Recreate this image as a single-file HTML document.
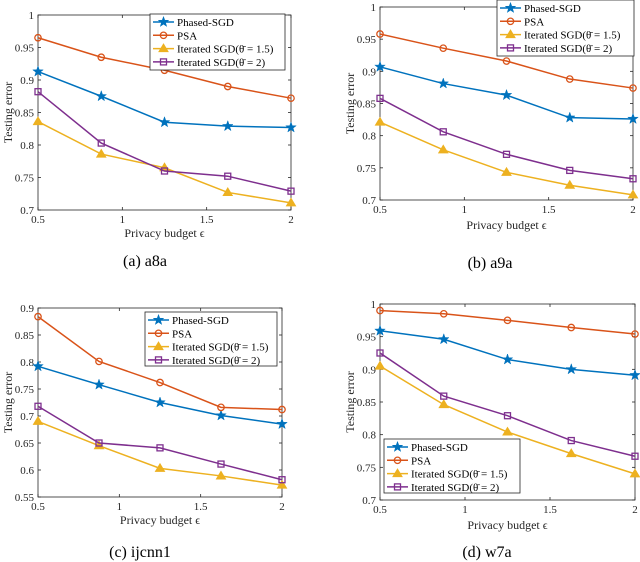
<!DOCTYPE html>
<html><head><meta charset="utf-8"><style>
body{margin:0;background:#fff;}
svg{display:block;font-family:"Liberation Serif",serif;}
</style></head><body>
<svg id="s" width="640" height="562" viewBox="0 0 640 562" xmlns="http://www.w3.org/2000/svg"></svg>
<script>
const xValues=[0.5,0.875,1.25,1.625,2];
const xTicks=[0.5,1,1.5,2];
const seriesNames=["Phased-SGD","PSA","Iterated SGD(θ̄ = 1.5)","Iterated SGD(θ̄ = 2)"];
const aPhased=[0.913,0.875,0.835,0.829,0.827];
const aPSA=[0.965,0.935,0.915,0.890,0.872];
const aIS15=[0.836,0.786,0.765,0.727,0.711];
const aIS2=[0.882,0.803,0.760,0.752,0.729];
const bPhased=[0.907,0.881,0.863,0.828,0.826];
const bPSA=[0.958,0.936,0.916,0.888,0.874];
const bIS15=[0.821,0.778,0.743,0.723,0.708];
const bIS2=[0.858,0.806,0.771,0.746,0.733];
const cPhased=[0.792,0.758,0.725,0.701,0.685];
const cPSA=[0.884,0.801,0.762,0.716,0.712];
const cIS15=[0.690,0.645,0.603,0.589,0.572];
const cIS2=[0.718,0.650,0.641,0.611,0.582];
const dPhased=[0.959,0.946,0.915,0.900,0.891];
const dPSA=[0.990,0.985,0.975,0.964,0.954];
const dIS15=[0.905,0.846,0.804,0.771,0.740];
const dIS2=[0.925,0.859,0.829,0.791,0.767];
const yTicksA=[0.7,0.75,0.8,0.85,0.9,0.95,1];
const yTicksC=[0.55,0.6,0.65,0.7,0.75,0.8,0.85,0.9];
const colors=["#0072BD","#D95319","#EDB120","#7E2F8E"];
const markers=["star","circle","tri","square"];
const NS="http://www.w3.org/2000/svg";
const svg=document.getElementById('s');
function mk(tag,attrs,parent){const e=document.createElementNS(NS,tag);for(const k in attrs)e.setAttribute(k,attrs[k]);(parent||svg).appendChild(e);return e;}
function fmt(v){return String(+v.toFixed(2));}
function marker(g,type,x,y,c){
  let e;
  if(type==="circle")e=mk('circle',{cx:x,cy:y,r:3.2,fill:'none',stroke:c,'stroke-width':1.3},g);
  else if(type==="square")e=mk('rect',{x:x-3,y:y-3,width:6,height:6,fill:'none',stroke:c,'stroke-width':1.3},g);
  else if(type==="tri")e=mk('polygon',{points:`${x},${y-4.5} ${x-4.5},${y+3} ${x+4.5},${y+3}`,fill:c,stroke:c},g);
  else{let p=[];for(let i=0;i<10;i++){const r=i%2?2.2:5.5,a=-Math.PI/2+i*Math.PI/5;p.push((x+r*Math.cos(a)).toFixed(1)+','+(y+r*Math.sin(a)).toFixed(1));}e=mk('polygon',{points:p.join(' '),fill:c,stroke:c,'stroke-width':0.5},g);}
  return e;
}
function panel(P){
  const g=mk('g',{});
  
  
  const {L,R,T,B,ymin,ymax,yt}=P;
  const sx=v=>L+(v-0.5)/(1.5)*(R-L);
  const sy=v=>B-(v-ymin)/(ymax-ymin)*(B-T);
  const frame=mk('rect',{x:L,y:T,width:R-L,height:B-T,fill:'#fff',stroke:'#262626','stroke-width':0.8},g);
  
  
  xTicks.forEach(v=>{const x=sx(v);mk('line',{x1:x,x2:x,y1:B,y2:B-3,stroke:'#262626','stroke-width':0.8},g);mk('line',{x1:x,x2:x,y1:T,y2:T+3,stroke:'#262626','stroke-width':0.8},g);
    const t=mk('text',{x:x,y:B+13,'font-size':11,'text-anchor':'middle',fill:'#262626'},g);t.textContent=fmt(v);
    });
  yt.forEach(v=>{const y=sy(v);mk('line',{x1:L,x2:L+3,y1:y,y2:y,stroke:'#262626','stroke-width':0.8},g);mk('line',{x1:R,x2:R-3,y1:y,y2:y,stroke:'#262626','stroke-width':0.8},g);
    const t=mk('text',{x:L-4,y:y+4,'font-size':11,'text-anchor':'end',fill:'#262626'},g);t.textContent=fmt(v);
    });
  const xl=mk('text',{x:(L+R)/2,y:P.xly,'font-size':12,'text-anchor':'middle',fill:'#262626'},g);xl.textContent='Privacy budget ϵ';
  
  const yl=mk('text',{x:0,y:0,'font-size':12,'text-anchor':'middle',fill:'#262626',transform:`translate(${L-26},${(T+B)/2}) rotate(-90)`},g);yl.textContent='Testing error';
  
  P.series.forEach((d,i)=>{
    const sg=mk('g',{},g);
    
    
    mk('polyline',{points:d.map((v,j)=>sx(xValues[j])+','+sy(v)).join(' '),fill:'none',stroke:colors[i],'stroke-width':1.5},sg);
    d.forEach((v,j)=>{const m=marker(sg,markers[i],sx(xValues[j]),sy(v),colors[i]);
      });
  });
  const lg=mk('g',{},g);
  
  
  const [lx,ly,lw,lh]=P.leg;
  mk('rect',{x:lx,y:ly,width:lw,height:lh,fill:'#fff',stroke:'#262626','stroke-width':0.8},lg);
  seriesNames.forEach((n,i)=>{const yy=ly+8+i*13.3;
    const e=mk('g',{},lg);
    
    
    mk('line',{x1:lx+3,x2:lx+24,y1:yy,y2:yy,stroke:colors[i],'stroke-width':1.5},e);
    marker(e,markers[i],lx+13.5,yy,colors[i]);
    const t=mk('text',{x:lx+27,y:yy+4,'font-size':11,fill:'#000'},e);t.textContent=n;});
  const cap=mk('text',{x:P.capx,y:P.capy,'font-size':16,'text-anchor':'middle',fill:'#000'},g);cap.textContent=P.cap;
  
}
panel({name:'chart-a8a',L:38,R:291,T:15,B:210,ymin:0.7,ymax:1,yt:yTicksA,xly:237,leg:[150,14,135,56],series:[aPhased,aPSA,aIS15,aIS2],cap:'(a) a8a',capx:145,capy:266});
panel({name:'chart-a9a',L:380,R:633,T:7,B:200,ymin:0.7,ymax:1,yt:yTicksA,xly:229,leg:[497,0,137,56],series:[bPhased,bPSA,bIS15,bIS2],cap:'(b) a9a',capx:490,capy:268});
panel({name:'chart-ijcnn1',L:38,R:282,T:308,B:497,ymin:0.55,ymax:0.9,yt:yTicksC,xly:524,leg:[145,312,132,54],series:[cPhased,cPSA,cIS15,cIS2],cap:'(c) ijcnn1',capx:140,capy:557});
panel({name:'chart-w7a',L:380,R:635,T:304,B:500,ymin:0.7,ymax:1,yt:yTicksA,xly:529,leg:[384,439,136,54],series:[dPhased,dPSA,dIS15,dIS2],cap:'(d) w7a',capx:487,capy:557});
</script>
</body></html>
